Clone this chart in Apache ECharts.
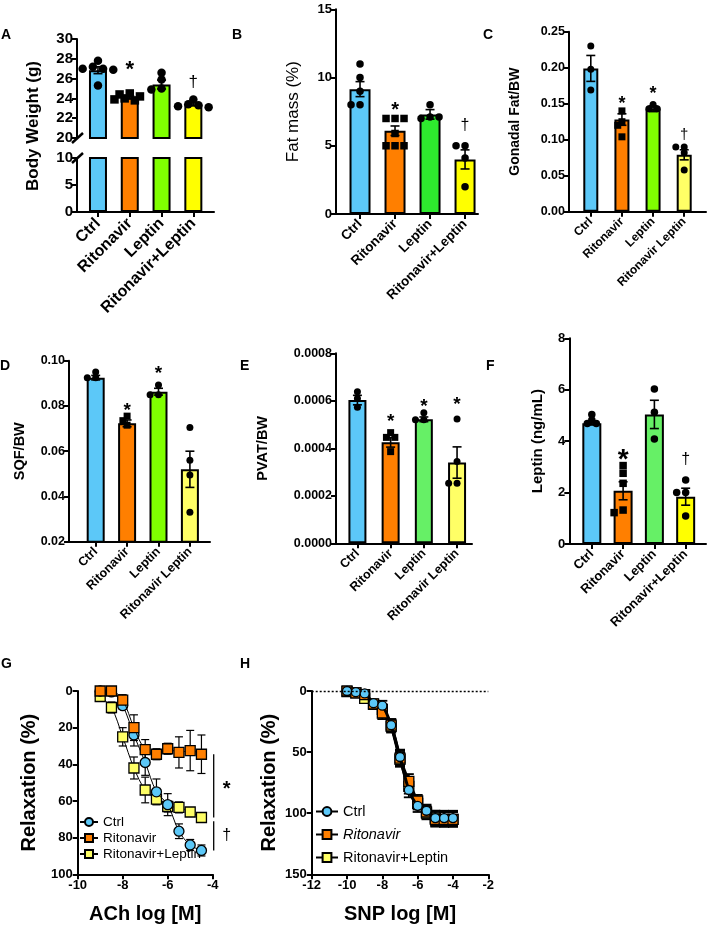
<!DOCTYPE html>
<html><head><meta charset="utf-8">
<script src="https://cdn.jsdelivr.net/npm/echarts@6/dist/echarts.min.js"></script>
<style>html,body{margin:0;padding:0;background:#fff}#c{width:709px;height:930px}</style>
</head><body><div id="c"></div><script>
// ================= DATA =================
const groupsPlus = ['Ctrl', 'Ritonavir', 'Leptin', 'Ritonavir+Leptin'];
const groupsSpace = ['Ctrl', 'Ritonavir', 'Leptin', 'Ritonavir Leptin'];

// A: Body weight (g)
const bwMean = [26.85, 24.1, 25.4, 23.4];
const bwSem = [0.35, 0.15, 0.45, 0.15];
const bwDots = [[27.8, 27.2, 27.0, 27.0, 26.9, 25.3], [24.5, 24.4, 24.2, 24.0, 23.9, 23.8], [26.6, 25.9, 25.0, 24.9], [23.9, 23.4, 23.3, 23.2, 23.1]];
const bwNoteCat = [1, 3], bwNoteVal = [27.3, 25.6], bwNoteText = ['*', '†'];
const bwTicksUpper = [20, 30, 2], bwTicksLower = [0, 10, 5];

// B: Fat mass (%)
const fatMean = [9.15, 6.1, 7.3, 4.0];
const fatSem = [0.55, 0.35, 0.35, 0.7];
const fatDots = [[11, 10, 9, 8, 8], [7, 7, 7, 5.9, 5, 5, 5], [8, 7.1, 7, 7.1], [5, 5, 4.1, 2]];
const fatNoteCat = [1, 3], fatNoteVal = [7.9, 6.5], fatNoteText = ['*', '†'];
const fatTicks = [0, 15, 5];

// C: Gonadal Fat/BW
const gonMean = [0.199, 0.128, 0.143, 0.079];
const gonSem = [0.018, 0.008, 0.004, 0.007];
const gonDots = [[0.23, 0.198, 0.169], [0.14, 0.125, 0.12, 0.104], [0.149, 0.143, 0.143], [0.09, 0.09, 0.082, 0.058]];
const gonNoteCat = [1, 2, 3], gonNoteVal = [0.155, 0.168, 0.107], gonNoteText = ['*', '*', '†'];
const gonTicks = [0, 0.25, 0.05];

// D: SQF/BW
const sqfMean = [0.0925, 0.0723, 0.0863, 0.052];
const sqfSem = [0.001, 0.0015, 0.0015, 0.008];
const sqfDots = [[0.095, 0.0925, 0.0925], [0.0755, 0.0735, 0.0715], [0.0893, 0.085, 0.085], [0.0705, 0.056, 0.0495, 0.033]];
const sqfNoteCat = [1, 2], sqfNoteVal = [0.0794, 0.0959], sqfNoteText = ['*', '*'];
const sqfTicks = [0.02, 0.10, 0.02];

// E: PVAT/BW
const pvatMean = [0.000603, 0.000425, 0.000522, 0.00034];
const pvatSem = [0.00002, 0.00002, 0.00001, 0.000066];
const pvatDots = [[0.000638, 0.00061, 0.000573], [0.000466, 0.000446, 0.000446, 0.000386], [0.00055, 0.00052, 0.00052], [0.000523, 0.000344, 0.000253, 0.000253]];
const pvatNoteCat = [1, 2, 3], pvatNoteVal = [0.000529, 0.000589, 0.000599], pvatNoteText = ['*', '*', '*'];
const pvatTicks = [0, 0.0008, 0.0002];

// F: Leptin (ng/mL)
const lepMean = [4.7, 2.07, 5.04, 1.84];
const lepSem = [0.07, 0.35, 0.55, 0.33];
const lepDots = [[5.04, 4.82, 4.69, 4.69], [3.05, 2.75, 2.36, 1.32, 1.22], [6.03, 5.12, 4.08], [2.49, 2.0, 2.0, 1.09]];
const lepNoteCat = [1, 3], lepNoteVal = [3.46, 3.27], lepNoteText = ['*', '†'];
const lepTicks = [0, 8, 2];

// G: ACh concentration-response (Relaxation %)
const achLogM = [-9, -8.5, -8, -7.5, -7, -6.5, -6, -5.5, -5, -4.5];
const achCtrl = [0, 0.5, 8, 24, 39, 55, 62, 76.5, 84, 87];
const achCtrlErr = [0, 0, 2, 6, 7, 7, 6, 4, 3, 3];
const achRito = [0, 0, 5, 20, 32, 34.5, 31.5, 33.5, 32.5, 34.5];
const achRitoErr = [0, 0, 3, 7, 5.5, 3, 3, 8.5, 11, 10.5];
const achRL = [3, 9, 25, 42, 54, 59, 63, 63.5, 66, 69];
const achRLErr = [1, 3, 5, 6, 7, 3, 3, 3, 2, 2];
const achSigSegs = [[34.5, 69], [71, 87]];
const achSigText = ['*', '†'];

// H: SNP concentration-response (Relaxation %)
const snpLogM = [-10, -9.5, -9, -8.5, -8, -7.5, -7, -6.5, -6, -5.5, -5, -4.5, -4];
const snpCtrl = [0, 1, 2, 10, 12, 28, 54, 81, 94, 98, 104, 104, 104];
const snpCtrlErr = [1, 1, 2, 3, 4, 5, 6, 6, 5, 5, 6, 6, 6];
const snpRito = [0, 1.5, 3, 10.5, 18, 28, 55, 74, 90, 99, 105, 105, 105];
const snpRitoErr = [1, 1, 2, 3, 5, 5, 6, 6, 5, 5, 6, 6, 6];
const snpRL = [0.5, 1.5, 6, 11, 15, 29, 56, 78, 92, 100, 104, 105, 105];
const snpRLErr = [1, 1, 2, 3, 4, 5, 6, 6, 5, 5, 6, 6, 6];

// ================= STYLE =================
const FONT = '"Liberation Sans", Arial, Helvetica, sans-serif';
const BLACK = '#000';
const C_BLUE = '#5CC8F8', C_ORANGE = '#FF7F00', C_LIME = '#80FF00', C_GREEN = '#2EEB2E',
      C_LGREEN = '#66F066', C_YELLOW = '#FFFF00', C_PYELLOW = '#FFFF66';
const SHAPES = ['circle', 'rect', 'circle', 'circle'];

const option = { animation: false, backgroundColor: '#fff', grid: [], xAxis: [], yAxis: [], series: [], legend: [], graphic: [] };

function axisLine() { return { show: true, onZero: false, lineStyle: { color: BLACK, width: 2 } }; }
function tick() { return { show: true, length: 5, lineStyle: { color: BLACK, width: 2 } }; }

function swarmOffset(api, c, arr, j, d) {
  const placed = [];
  const step = d * 0.6, minD = d * 0.72;
  let off = 0;
  for (let k = 0; k <= j; k++) {
    const py = api.coord([c, arr[k]])[1];
    const cand = [0];
    for (let s = 1; s < 10; s++) cand.push(-s * step, s * step);
    for (const o of cand) {
      if (placed.every(p => (p.x - o) * (p.x - o) + (p.y - py) * (p.y - py) >= minD * minD)) { off = o; break; }
    }
    placed.push({ x: off, y: py });
  }
  return off;
}

function errSeries(xi, yi, xs, means, errs, capW, lw, z) {
  return {
    type: 'custom', xAxisIndex: xi, yAxisIndex: yi, silent: true, z: z,
    data: means.map((m, i) => [xs[i], m - errs[i], m + errs[i]]),
    encode: { x: 0, y: [1, 2] },
    renderItem(params, api) {
      const x = api.value(0);
      const lo = api.coord([x, api.value(1)]);
      const hi = api.coord([x, api.value(2)]);
      const w = capW / 2;
      const st = { stroke: BLACK, lineWidth: lw };
      return { type: 'group', children: [
        { type: 'line', shape: { x1: lo[0], y1: lo[1], x2: hi[0], y2: hi[1] }, style: st },
        { type: 'line', shape: { x1: hi[0] - w, y1: hi[1], x2: hi[0] + w, y2: hi[1] }, style: st },
        { type: 'line', shape: { x1: lo[0] - w, y1: lo[1], x2: lo[0] + w, y2: lo[1] }, style: st }
      ] };
    }
  };
}

function barPanel(p) {
  p.segments.forEach(s => {
    const gi = option.grid.length;
    option.grid.push({ left: p.left, top: s.top, width: p.width, height: s.height });
    const xi = option.xAxis.length;
    option.xAxis.push({
      gridIndex: gi, type: 'value', min: p.xmin, max: p.xmax, splitLine: { show: false },
      axisLine: s.showX ? axisLine() : { show: false },
      axisTick: s.showX ? Object.assign(tick(), { customValues: [0, 1, 2, 3] }) : { show: false },
      axisLabel: s.showX ? { show: true, customValues: [0, 1, 2, 3], rotate: 45, margin: p.xMargin,
        formatter: v => p.cats[Math.round(v)], color: BLACK, fontFamily: FONT, fontWeight: 'bold', fontSize: p.xFont } : { show: false }
    });
    const yi = option.yAxis.length;
    const yAx = {
      gridIndex: gi, type: 'value', min: s.ticks[0], max: s.ticks[1], interval: s.ticks[2],
      splitLine: { show: false }, axisLine: axisLine(), axisTick: tick(),
      axisLabel: { color: BLACK, fontFamily: FONT, fontWeight: 'bold', fontSize: p.yFont, margin: 4, formatter: v => p.fmt(v) }
    };
    if (s.main && p.yName) {
      Object.assign(yAx, { name: p.yName, nameLocation: 'middle', nameGap: p.nameGap,
        nameTextStyle: { color: BLACK, fontFamily: FONT, fontSize: p.nameFont, fontWeight: p.nameWeight } });
    }
    option.yAxis.push(yAx);
    option.series.push({
      type: 'bar', xAxisIndex: xi, yAxisIndex: yi, barWidth: p.barW, silent: true, z: 2, clip: true,
      itemStyle: { borderColor: BLACK, borderWidth: 2 },
      data: p.means.map((m, i) => ({ value: [i, m], itemStyle: { color: p.colors[i] } }))
    });
    if (!s.main) return;
    option.series.push(errSeries(xi, yi, [0, 1, 2, 3], p.means, p.sems, 9, 1.6, 4));
    const dotData = [];
    p.dots.forEach((arr, c) => arr.forEach((v, j) => dotData.push([c, v, j])));
    const d = p.dotD;
    option.series.push({
      type: 'custom', xAxisIndex: xi, yAxisIndex: yi, silent: true, z: 5, data: dotData,
      renderItem(params, api) {
        const c = api.value(0), v = api.value(1), j = api.value(2);
        const pt = api.coord([c, v]);
        const off = swarmOffset(api, c, p.dots[c], j, d);
        const x = pt[0] + off;
        if (SHAPES[c] === 'rect') {
          return { type: 'rect', shape: { x: x - d / 2, y: pt[1] - d / 2, width: d, height: d }, style: { fill: BLACK } };
        }
        return { type: 'circle', shape: { cx: x, cy: pt[1], r: d / 2 }, style: { fill: BLACK } };
      }
    });
    option.series.push({
      type: 'custom', xAxisIndex: xi, yAxisIndex: yi, silent: true, z: 6,
      data: p.noteCat.map((c, i) => [c, p.noteVal[i]]),
      renderItem(params, api) {
        const pt = api.coord([api.value(0), api.value(1)]);
        const t = p.noteText[params.dataIndex];
        const fs = t === '*' ? p.starFont : p.dagFont;
        const dy = t === '*' ? fs * 0.2 : 0;
        return { type: 'text', x: pt[0], y: pt[1] + dy,
          style: { text: t, fill: BLACK, fontFamily: FONT, fontWeight: t === '*' ? 'bold' : 'normal', fontSize: fs,
            align: 'center', verticalAlign: 'middle' } };
      }
    });
  });
}

const intFmt = v => String(Math.round(v));

// A
barPanel({ left: 77, width: 137, xmin: -0.66, xmax: 3.65, cats: groupsPlus, xFont: 16, xMargin: 9, yFont: 15,
  fmt: intFmt, means: bwMean, sems: bwSem, dots: bwDots, colors: [C_BLUE, C_ORANGE, C_LIME, C_YELLOW],
  barW: 18, dotD: 8.5, noteCat: bwNoteCat, noteVal: bwNoteVal, noteText: bwNoteText, starFont: 22, dagFont: 17,
  segments: [
    { top: 39, height: 99, ticks: bwTicksUpper, showX: false, main: true },
    { top: 158, height: 54, ticks: bwTicksLower, showX: true, main: false }
  ] });
// B
barPanel({ left: 336, width: 142, xmin: -0.686, xmax: 3.37, cats: groupsPlus, xFont: 13.5, xMargin: 8, yFont: 13,
  fmt: intFmt, means: fatMean, sems: fatSem, dots: fatDots, colors: [C_BLUE, C_ORANGE, C_GREEN, C_YELLOW],
  barW: 21, dotD: 7.5, noteCat: fatNoteCat, noteVal: fatNoteVal, noteText: fatNoteText, starFont: 20, dagFont: 16,
  yName: 'Fat mass (%)', nameGap: 34, nameFont: 17, nameWeight: 'normal',
  segments: [{ top: 9.3, height: 204.7, ticks: fatTicks, showX: true, main: true }] });
// C
barPanel({ left: 569, width: 137, xmin: -0.7, xmax: 3.7, cats: groupsSpace, xFont: 12, xMargin: 8, yFont: 12.5,
  fmt: v => v.toFixed(2), means: gonMean, sems: gonSem, dots: gonDots, colors: [C_BLUE, C_ORANGE, C_LIME, C_PYELLOW],
  barW: 15, dotD: 7, noteCat: gonNoteCat, noteVal: gonNoteVal, noteText: gonNoteText, starFont: 18, dagFont: 15,
  yName: 'Gonadal Fat/BW', nameGap: 47, nameFont: 14, nameWeight: 'bold',
  segments: [{ top: 31.7, height: 180, ticks: gonTicks, showX: true, main: true }] });
// D
barPanel({ left: 69, width: 141, xmin: -0.85, xmax: 3.64, cats: groupsSpace, xFont: 12.5, xMargin: 8, yFont: 12.5,
  fmt: v => v.toFixed(2), means: sqfMean, sems: sqfSem, dots: sqfDots, colors: [C_BLUE, C_ORANGE, C_LIME, C_PYELLOW],
  barW: 18, dotD: 7, noteCat: sqfNoteCat, noteVal: sqfNoteVal, noteText: sqfNoteText, starFont: 19, dagFont: 15,
  yName: 'SQF/BW', nameGap: 42, nameFont: 14.5, nameWeight: 'bold',
  segments: [{ top: 360.7, height: 181, ticks: sqfTicks, showX: true, main: true }] });
// E
barPanel({ left: 336, width: 136, xmin: -0.645, xmax: 3.45, cats: groupsSpace, xFont: 12.5, xMargin: 8, yFont: 12.5,
  fmt: v => v.toFixed(4), means: pvatMean, sems: pvatSem, dots: pvatDots, colors: [C_BLUE, C_ORANGE, C_LGREEN, C_PYELLOW],
  barW: 18, dotD: 7, noteCat: pvatNoteCat, noteVal: pvatNoteVal, noteText: pvatNoteText, starFont: 19, dagFont: 15,
  yName: 'PVAT/BW', nameGap: 66, nameFont: 14.5, nameWeight: 'bold',
  segments: [{ top: 353.3, height: 190, ticks: pvatTicks, showX: true, main: true }] });
// F
barPanel({ left: 569.3, width: 136.7, xmin: -0.72, xmax: 3.65, cats: groupsPlus, xFont: 13, xMargin: 8, yFont: 13,
  fmt: intFmt, means: lepMean, sems: lepSem, dots: lepDots, colors: [C_BLUE, C_ORANGE, C_LGREEN, C_YELLOW],
  barW: 19, dotD: 7.5, noteCat: lepNoteCat, noteVal: lepNoteVal, noteText: lepNoteText, starFont: 28, dagFont: 16,
  yName: 'Leptin (ng/mL)', nameGap: 24, nameFont: 15, nameWeight: 'bold',
  segments: [{ top: 338.3, height: 205.7, ticks: lepTicks, showX: true, main: true }] });

// ---------- G and H: concentration-response ----------
function crPanel(p) {
  const gi = option.grid.length;
  option.grid.push({ left: p.left, top: p.top, width: p.width, height: p.height });
  const xi = option.xAxis.length;
  option.xAxis.push({ gridIndex: gi, type: 'value', min: p.xTicks[0], max: p.xTicks[1], interval: p.xTicks[2],
    splitLine: { show: false }, axisLine: axisLine(), axisTick: tick(),
    axisLabel: { color: BLACK, fontFamily: FONT, fontWeight: 'bold', fontSize: 13, margin: 5 },
    name: p.xName, nameLocation: 'middle', nameGap: p.xNameGap,
    nameTextStyle: { color: BLACK, fontFamily: FONT, fontWeight: 'bold', fontSize: 20 } });
  const yi = option.yAxis.length;
  option.yAxis.push({ gridIndex: gi, type: 'value', inverse: true, min: p.yTicks[0], max: p.yTicks[1], interval: p.yTicks[2],
    splitLine: { show: false }, axisLine: axisLine(), axisTick: tick(),
    axisLabel: { color: BLACK, fontFamily: FONT, fontWeight: 'bold', fontSize: 13, margin: 5 },
    name: 'Relaxation (%)', nameLocation: 'middle', nameGap: p.yNameGap,
    nameTextStyle: { color: BLACK, fontFamily: FONT, fontWeight: 'bold', fontSize: 20 } });
  p.groups.forEach((g, k) => {
    option.series.push(errSeries(xi, yi, p.xs, g.y, g.err, p.capW, p.errW, 3 + k * 0.01));
    const s = {
      type: 'line', name: g.name, xAxisIndex: xi, yAxisIndex: yi, silent: true, z: 4 + k * 0.01,
      data: p.xs.map((x, i) => [x, g.y[i]]),
      smooth: p.smooth, symbol: g.symbol, symbolSize: g.size,
      itemStyle: { color: g.color, borderColor: BLACK, borderWidth: 1.3 },
      lineStyle: { color: BLACK, width: p.lineW }
    };
    if (g.markLine) s.markLine = g.markLine;
    option.series.push(s);
  });
  return { xi, yi };
}

const gAx = crPanel({ left: 77.7, top: 691, width: 135, height: 183.3, xTicks: [-10, -4, 2], yTicks: [0, 100, 20],
  xName: 'ACh log [M]', xNameGap: 30, yNameGap: 38, xs: achLogM, capW: 8, errW: 1.2, lineW: 1, smooth: 0.35,
  groups: [
    { name: 'Ritonavir+Leptin', y: achRL, err: achRLErr, symbol: 'rect', size: 10, color: C_PYELLOW },
    { name: 'Ctrl', y: achCtrl, err: achCtrlErr, symbol: 'circle', size: 10, color: C_BLUE },
    { name: 'Ritonavir', y: achRito, err: achRitoErr, symbol: 'rect', size: 10, color: C_ORANGE }
  ] });

// significance brackets of G
option.series.push({
  type: 'custom', xAxisIndex: gAx.xi, yAxisIndex: gAx.yi, silent: true, z: 6, clip: false,
  data: achSigSegs.map(s => [-4, s[0], s[1]]),
  encode: { x: 0, y: [1, 2] },
  renderItem(params, api) {
    const a = api.coord([api.value(0), api.value(1)]);
    const b = api.coord([api.value(0), api.value(2)]);
    const t = achSigText[params.dataIndex];
    return { type: 'group', children: [
      { type: 'line', shape: { x1: a[0] + 1, y1: a[1], x2: b[0] + 1, y2: b[1] }, style: { stroke: BLACK, lineWidth: 1.3 } },
      { type: 'text', x: a[0] + 14, y: (a[1] + b[1]) / 2 + (t === '*' ? 4 : 0),
        style: { text: t, fill: BLACK, fontFamily: FONT, fontSize: t === '*' ? 20 : 16, fontWeight: t === '*' ? 'bold' : 'normal',
          align: 'center', verticalAlign: 'middle' } }
    ] };
  }
});

crPanel({ left: 311.7, top: 691, width: 176.6, height: 183.3, xTicks: [-12, -2, 2], yTicks: [0, 150, 50],
  xName: 'SNP log [M]', xNameGap: 30, yNameGap: 32, xs: snpLogM, capW: 10, errW: 1.8, lineW: 3, smooth: 0.3,
  groups: [
    { name: 'H:Ritonavir+Leptin', y: snpRL, err: snpRLErr, symbol: 'rect', size: 10, color: C_PYELLOW },
    { name: 'H:Ritonavir', y: snpRito, err: snpRitoErr, symbol: 'rect', size: 10, color: C_ORANGE },
    { name: 'H:Ctrl', y: snpCtrl, err: snpCtrlErr, symbol: 'circle', size: 9, color: C_BLUE,
      markLine: { silent: true, symbol: 'none', label: { show: false }, animation: false,
        lineStyle: { type: [2, 2], color: BLACK, width: 1.3 }, data: [{ yAxis: 0 }] } }
  ] });

option.legend.push({
  data: ['Ctrl', 'Ritonavir', 'Ritonavir+Leptin'], orient: 'vertical', left: 79, top: 815,
  itemWidth: 18, itemHeight: 10, itemGap: 2, selectedMode: false, padding: 0,
  textStyle: { color: BLACK, fontFamily: FONT, fontSize: 13.5 }
});
option.legend.push({
  data: [{ name: 'H:Ctrl' }, { name: 'H:Ritonavir', textStyle: { fontStyle: 'italic' } }, { name: 'H:Ritonavir+Leptin' }],
  formatter: n => n.slice(2), orient: 'vertical', left: 315, top: 804,
  itemWidth: 22, itemHeight: 11, itemGap: 8, selectedMode: false, padding: 0,
  textStyle: { color: BLACK, fontFamily: FONT, fontSize: 14.5 }
});

// ---------- graphics: panel letters, A title and axis break ----------
const letters = [['A', 1, 36], ['B', 232, 36], ['C', 483, 36], ['D', 0, 367], ['E', 240, 367], ['F', 486, 367.5], ['G', 1, 665], ['H', 240, 665]];
letters.forEach(l => option.graphic.push({ type: 'text', left: l[1], top: l[2] - 8, silent: true,
  style: { text: l[0], fill: BLACK, font: 'bold 14px ' + FONT } }));
option.graphic.push({ type: 'text', x: 33, y: 126, rotation: Math.PI / 2, silent: true,
  style: { text: 'Body Weight (g)', fill: BLACK, font: 'bold 17px ' + FONT, align: 'center', verticalAlign: 'middle' } });
[138, 158].forEach(y => option.graphic.push({ type: 'line', silent: true,
  shape: { x1: 72, y1: y + 5, x2: 83, y2: y - 5 }, style: { stroke: BLACK, lineWidth: 2.5 } }));

const chart = echarts.init(document.getElementById('c'), null, { renderer: 'canvas', width: 709, height: 930 });
chart.setOption(option);
</script></body></html>
